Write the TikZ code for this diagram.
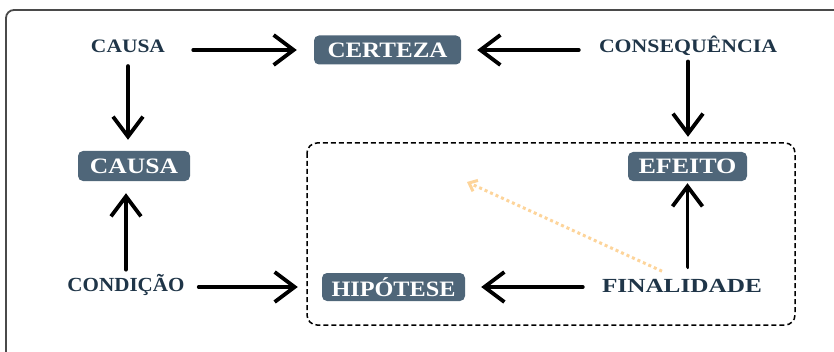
\documentclass[tikz,border=0pt]{standalone}
\usepackage{fontspec}
\setmainfont{Liberation Serif}
\usepackage{graphicx}
\usetikzlibrary{arrows.meta}
\definecolor{navy}{HTML}{1F3548}
\definecolor{boxc}{HTML}{4F6679}
\definecolor{framec}{HTML}{4A4A4A}
\definecolor{dotc}{HTML}{FDD49A}
\newcommand\tw[2]{\resizebox{#1}{\height}{\bfseries #2}}
\begin{document}
\begin{tikzpicture}[x=1pt,y=1pt,
  lbl/.style={inner sep=0pt, text=navy, font=\fontsize{19}{19}\selectfont},
  lblb/.style={inner sep=0pt, text=navy, font=\fontsize{20}{20}\selectfont},
  tbox/.style={fill=boxc, rounded corners=5pt, text=white, inner sep=0pt,
    font=\fontsize{22}{22}\selectfont, minimum height=29pt},
  arr/.style={line width=3.8pt, line cap=round, line join=round,
    -{Straight Barb[length=20pt,width=30pt]}},
  dotarr/.style={dotc, line width=3pt, dash pattern=on 3pt off 3pt,
    -{Straight Barb[length=7pt,width=12pt]}},
]
\useasboundingbox (0,0) rectangle (834,351);
% outer frame (extends beyond picture)
\draw[framec, line width=1.8pt, rounded corners=8pt] (6,341) rectangle (850,-20);
% dashed group
\draw[black, line width=1.5pt, dash pattern=on 5pt off 3pt, rounded corners=10pt] (307,208) rectangle (795,26);

\node[lbl] (causaT) at (128,304.5) {\tw{74pt}{CAUSA}};
\node[tbox, minimum width=147pt] (certeza) at (387.5,301) {\tw{120pt}{CERTEZA}};
\node[lbl] (conseq) at (688,305.5) {\tw{178pt}{CONSEQUÊNCIA}};
\node[tbox, minimum width=112pt, minimum height=30pt] (causaB) at (134,185) {\tw{88pt}{CAUSA}};
\node[tbox, minimum width=119pt] (efeito) at (687.5,184.5) {\tw{98pt}{EFEITO}};
\node[lblb] (condicao) at (126,66.5) {\tw{117pt}{CONDIÇÃO}};
\node[tbox, minimum width=143pt, minimum height=28pt] (hipotese) at (393.5,64) {\tw{124pt}{HIPÓTESE}};
\node[lblb] (finalidade) at (682,65) {\tw{160pt}{FINALIDADE}};
\coordinate (dotend) at (467,169);

\draw[arr, shorten <=28pt, shorten >=17pt] (causaT.east |- certeza.west) -- (certeza.west);
\draw[arr, shorten <=20pt, shorten >=16pt] (conseq.west |- certeza.east) -- (certeza.east);
\draw[arr, shorten <=6pt, shorten >=15pt] (conseq.south) -- (conseq.south |- efeito.north);
\draw[arr, shorten <=13pt, shorten >=11pt] (causaT.south) -- (causaT.south |- causaB.north);
\draw[arr, shorten <=4pt, shorten >=12pt] (condicao.north) -- (condicao.north |- causaB.south);
\draw[arr, shorten <=14pt, shorten >=24pt] (condicao.east |- hipotese.west) -- (hipotese.west);
\draw[arr, shorten <=19pt, shorten >=16pt] (finalidade.west |- hipotese.east) -- (hipotese.east);
\draw[arr, shorten <=12pt, shorten >=2pt] (efeito.south |- finalidade.north) -- (efeito.south);
\draw[dotarr] ([xshift=-20pt,yshift=8pt]finalidade.north) -- (dotend);
\end{tikzpicture}
\end{document}
